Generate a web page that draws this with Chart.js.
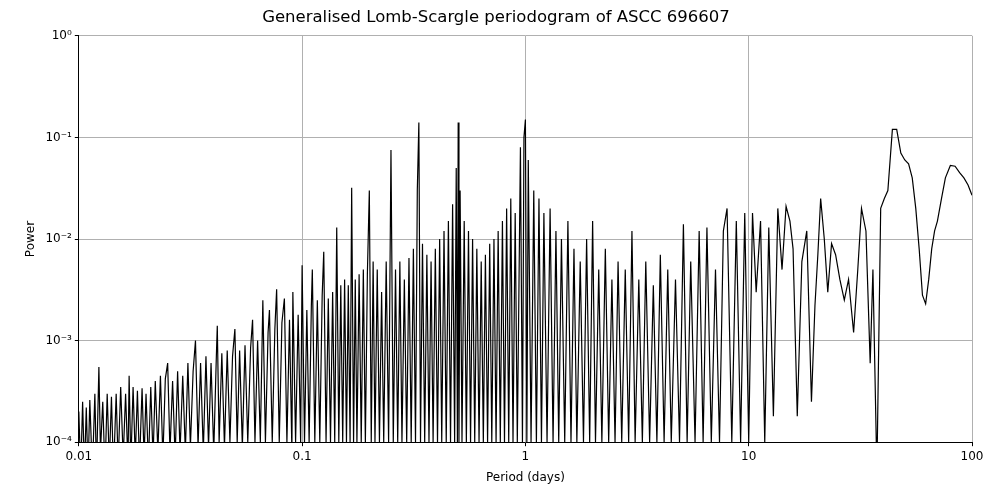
<!DOCTYPE html>
<html>
<head>
<meta charset="utf-8">
<script src="https://cdn.jsdelivr.net/npm/chart.js@4"></script>
<style>
  body { margin: 0; background: #fff; }
  #wrap { width: 1000px; height: 500px; }
</style>
</head>
<body>
<div id="wrap"><canvas id="chart"></canvas></div>
<script>
// periods (days) and generalised Lomb-Scargle power
const periods = [
  0.0100,0.0102,0.0104,0.0106,0.0108,0.0110,0.0112,0.0115,0.0118,0.0120,
  0.0123,0.0125,0.0128,0.0131,0.0134,0.0137,0.0140,0.0143,0.0147,0.0150,
  0.0154,0.0158,0.0162,0.0166,0.0168,0.0171,0.0175,0.0179,0.0183,0.0187,
  0.0192,0.0196,0.0200,0.0205,0.0210,0.0215,0.0220,0.0226,0.0232,0.0238,
  0.0244,0.0250,0.0256,0.0263,0.0270,0.0277,0.0284,0.0292,0.0300,0.0308,
  0.0316,0.0325,0.0333,0.0342,0.0351,0.0361,0.0371,0.0381,0.0391,0.0402,
  0.0413,0.0417,0.0425,0.0437,0.0449,0.0462,0.0475,0.0488,0.0500,0.0512,
  0.0525,0.0540,0.0555,0.0571,0.0588,0.0600,0.0615,0.0632,0.0650,0.0667,
  0.0685,0.0704,0.0714,0.0735,0.0755,0.0769,0.0790,0.0812,0.0833,0.0855,
  0.0878,0.0900,0.0909,0.0935,0.0960,0.0985,0.1000,0.1025,0.1050,0.1075,
  0.1100,0.1111,0.1140,0.1170,0.1200,0.1230,0.1250,0.1280,0.1310,0.1340,
  0.1370,0.1400,0.1429,0.1460,0.1490,0.1520,0.1550,0.1580,0.1610,0.1640,
  0.1667,0.1700,0.1730,0.1760,0.1800,0.1840,0.1880,0.1920,0.1960,0.2000,
  0.2040,0.2080,0.2120,0.2170,0.2220,0.2270,0.2320,0.2380,0.2440,0.2500,
  0.2560,0.2620,0.2680,0.2740,0.2800,0.2870,0.2940,0.3010,0.3080,0.3150,
  0.3220,0.3280,0.3333,0.3390,0.3460,0.3540,0.3620,0.3700,0.3780,0.3860,
  0.3950,0.4040,0.4130,0.4220,0.4320,0.4420,0.4520,0.4620,0.4720,0.4820,
  0.4900,0.4960,0.5000,0.5040,0.5100,0.5200,0.5320,0.5440,0.5560,0.5680,
  0.5800,0.5930,0.6060,0.6200,0.6340,0.6480,0.6620,0.6770,0.6920,0.7070,
  0.7230,0.7390,0.7550,0.7720,0.7890,0.8060,0.8240,0.8420,0.8600,0.8800,
  0.9000,0.9200,0.9500,0.9700,0.9850,1.0000,1.0150,1.0300,1.0600,1.0900,
  1.1200,1.1500,1.1800,1.2100,1.2500,1.2900,1.3300,1.3700,1.4100,1.4500,
  1.5000,1.5500,1.6000,1.6500,1.7000,1.7600,1.8200,1.8800,1.9400,2.0000,
  2.0600,2.1300,2.2000,2.2800,2.3600,2.4400,2.5200,2.6000,2.7000,2.8000,
  2.9000,3.0000,3.1000,3.2200,3.3400,3.4600,3.6000,3.7400,3.8800,4.0200,
  4.1800,4.3400,4.5000,4.7000,4.9000,5.1000,5.3000,5.5000,5.7500,6.0000,
  6.2500,6.5000,6.8000,7.1000,7.4000,7.7000,8.0000,8.4000,8.8000,9.2000,
  9.6000,10.000,10.400,10.800,11.300,11.800,12.300,12.900,13.500,14.100,
  14.700,15.300,15.800,16.500,17.300,18.200,19.100,19.800,20.400,21.000,
  21.800,22.600,23.500,24.500,25.600,26.800,28.000,29.500,30.800,32.000,
  33.500,35.000,36.000,37.500,39.000,40.500,42.000,44.000,46.000,48.000,
  50.000,52.000,54.000,56.000,58.000,60.000,62.000,64.000,66.000,68.000,
  70.000,73.000,76.000,80.000,84.000,88.000,92.000,96.000,100.00
];
const powers = [
  2.0e-4,5e-5,2.5e-4,5e-5,2.2e-4,5e-5,2.6e-4,5e-5,3.0e-4,5e-5,
  5.5e-4,8e-5,2.5e-4,5e-5,3.0e-4,6e-5,2.8e-4,5e-5,3.0e-4,6e-5,
  3.5e-4,7e-5,3.0e-4,6e-5,4.5e-4,6e-5,3.5e-4,7e-5,3.2e-4,6e-5,
  3.4e-4,7e-5,3.0e-4,6e-5,3.5e-4,7e-5,4.0e-4,8e-5,4.5e-4,7e-5,
  4.2e-4,6.0e-4,8e-5,4.0e-4,7e-5,5.0e-4,8e-5,4.5e-4,8e-5,6.0e-4,
  9e-5,5.0e-4,1.0e-3,9e-5,6.0e-4,8e-5,7.0e-4,9e-5,6.0e-4,8e-5,
  7.0e-4,1.4e-3,1e-4,7.5e-4,9e-5,8.0e-4,1e-4,7.0e-4,1.3e-3,1e-4,
  8.0e-4,9e-5,9.0e-4,1e-4,8.5e-4,1.6e-3,1e-4,1.0e-3,1e-4,2.5e-3,
  1e-4,1.2e-3,2.0e-3,1e-4,1.3e-3,3.2e-3,1e-4,1.5e-3,2.6e-3,1e-4,
  1.6e-3,8e-5,3.0e-3,1e-4,1.8e-3,1e-4,5.5e-3,1e-4,2.0e-3,1e-4,
  2.2e-3,5.0e-3,1e-4,2.5e-3,1e-4,2.8e-3,7.5e-3,1e-4,2.6e-3,1e-4,
  3.0e-3,1e-4,1.3e-2,1e-4,3.5e-3,1e-4,4.0e-3,1e-4,3.5e-3,1e-4,
  3.2e-2,1e-4,4.0e-3,1e-4,4.5e-3,1e-4,5.0e-3,1e-4,4.5e-3,3.0e-2,
  1e-4,6.0e-3,1e-4,5.0e-3,1e-4,3.0e-3,1e-4,6.0e-3,1e-4,7.5e-2,
  1e-4,5.0e-3,1e-4,6.0e-3,1e-4,4.0e-3,1e-4,6.5e-3,1e-4,8.0e-3,
  1e-4,3.0e-2,1.4e-1,1e-4,9.0e-3,1e-4,7.0e-3,1e-4,6.0e-3,1e-4,
  8.0e-3,1e-4,1.0e-2,1e-4,1.2e-2,1e-4,1.5e-2,1e-4,2.2e-2,1e-4,
  5.0e-2,1e-4,1.4e-1,1e-4,3.0e-2,1e-4,1.5e-2,1e-4,1.2e-2,1e-4,
  1.0e-2,1e-4,8.0e-3,1e-4,6.0e-3,1e-4,7.0e-3,1e-4,9.0e-3,1e-4,
  1.0e-2,1e-4,1.2e-2,1e-4,1.5e-2,1e-4,2.0e-2,1e-4,2.5e-2,1e-4,
  1.8e-2,1e-4,8.0e-2,1e-4,1.0e-1,1.5e-1,1e-4,6.0e-2,1e-4,3.0e-2,
  1e-4,2.5e-2,1e-4,1.8e-2,1e-4,2.0e-2,1e-4,1.2e-2,1e-4,1.0e-2,
  1e-4,1.5e-2,1e-4,8.0e-3,1e-4,6.0e-3,1e-4,1.0e-2,1e-4,1.5e-2,
  1e-4,5.0e-3,1e-4,8.0e-3,1e-4,4.0e-3,1e-4,6.0e-3,1e-4,5.0e-3,
  1e-4,1.2e-2,1e-4,4.0e-3,1e-4,6.0e-3,1e-4,3.5e-3,1e-4,7.0e-3,
  1e-4,5.0e-3,1e-4,4.0e-3,1e-4,1.4e-2,1e-4,6.0e-3,1e-4,1.2e-2,
  1e-4,1.3e-2,1e-4,5.0e-3,1e-4,1.2e-2,2.0e-2,1e-4,1.5e-2,1e-4,
  1.8e-2,1e-4,1.8e-2,3.0e-3,1.5e-2,1e-4,1.3e-2,1.8e-4,2.0e-2,5.0e-3,
  2.1e-2,1.5e-2,8.0e-3,1.8e-4,6.0e-3,1.2e-2,2.5e-4,2.2e-3,7.0e-3,2.5e-2,
  1.0e-2,3.0e-3,9.0e-3,7.0e-3,4.0e-3,2.5e-3,4.0e-3,1.2e-3,5.0e-3,2.0e-2,
  1.2e-2,6.0e-4,5.0e-3,5e-5,2.0e-2,2.5e-2,3.0e-2,1.2e-1,1.2e-1,7.0e-2,
  6.0e-2,5.5e-2,4.0e-2,2.0e-2,8.0e-3,2.8e-3,2.3e-3,4.0e-3,8.0e-3,1.2e-2,
  1.5e-2,2.5e-2,4.0e-2,5.3e-2,5.2e-2,4.5e-2,4.0e-2,3.4e-2,2.7e-2
];
const xTicks = [0.01, 0.1, 1, 10, 100];
const xTickLabels = ['0.01', '0.1', '1', '10', '100'];
const yTicks = [1e-4, 1e-3, 1e-2, 1e-1, 1];
const yTickLabels = ['10⁻⁴', '10⁻³', '10⁻²', '10⁻¹', '10⁰'];

const font = { family: 'DejaVu Sans', size: 12 };

new Chart(document.getElementById('chart'), {
  type: 'line',
  data: {
    datasets: [{
      data: periods.map((p, i) => ({ x: p, y: powers[i] })),
      borderColor: '#000',
      borderWidth: 1.2,
      pointRadius: 0,
      tension: 0,
      fill: false
    }]
  },
  options: {
    responsive: true,
    maintainAspectRatio: false,
    animation: false,
    layout: { padding: { left: 20, right: 28, top: 4, bottom: 11 } },
    plugins: {
      legend: { display: false },
      tooltip: { enabled: false },
      title: {
        display: true,
        text: 'Generalised Lomb-Scargle periodogram of ASCC 696607',
        color: '#000',
        font: { family: 'DejaVu Sans', size: 16.5, weight: 'normal' },
        padding: { top: 4, bottom: 8 }
      }
    },
    scales: {
      x: {
        type: 'logarithmic',
        min: 0.01, max: 100,
        afterBuildTicks: s => { s.ticks = xTicks.map(v => ({ value: v })); },
        ticks: {
          color: '#000', font, maxRotation: 0,
          callback: (v) => xTickLabels[xTicks.indexOf(v)] ?? ''
        },
        grid: { color: '#b0b0b0', tickColor: '#000', tickLength: 4 },
        border: { color: '#000' },
        title: { display: true, text: 'Period (days)', color: '#000', font }
      },
      y: {
        type: 'logarithmic',
        min: 1e-4, max: 1,
        afterBuildTicks: s => { s.ticks = yTicks.map(v => ({ value: v })); },
        ticks: {
          color: '#000', font,
          callback: (v) => yTickLabels[yTicks.indexOf(v)] ?? ''
        },
        grid: { color: '#b0b0b0', tickColor: '#000', tickLength: 4 },
        border: { color: '#000' },
        title: { display: true, text: 'Power', color: '#000', font }
      }
    }
  }
});
</script>
</body>
</html>
